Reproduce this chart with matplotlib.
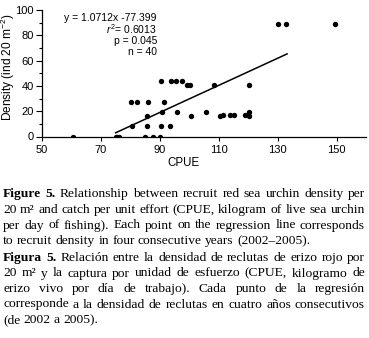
import matplotlib
matplotlib.use("Agg")
import matplotlib.pyplot as plt
from matplotlib.ticker import MultipleLocator

plt.rcParams['font.family'] = ['Liberation Sans', 'DejaVu Sans']
plt.rcParams['mathtext.fontset'] = 'custom'
plt.rcParams['mathtext.rm'] = 'Liberation Sans'
plt.rcParams['mathtext.it'] = 'Liberation Sans:italic'

# datos
cpue = [60.6, 75.0, 75.5, 76.2, 80.1, 82.1, 80.4, 86.0, 85.8, 85.5,
        85.1, 87.8, 90.0, 90.4, 90.6, 90.5, 91.4, 93.3, 93.8, 95.6,
        97.4, 95.7, 99.3, 100.2, 108.4, 120.2, 100.7, 105.6, 110.6, 111.3,
        113.7, 115.2, 119.0, 120.2, 120.2, 130.1, 132.9, 149.6]
densidad = [0, 0, 0, 0, 27, 27, 8, 27, 16, 8,
            0, 0, 0, 44, 19, 8, 27, 8, 44, 44,
            44, 19, 41, 41, 41, 41, 16, 19, 16, 17,
            17, 17, 17, 19, 16, 89, 89, 89]

pendiente = 1.0712
intercepto = -77.399
rango_ajuste = [75.0, 133.2]

xticks = [50, 70, 90, 110, 130, 150]
estadisticas = ["y = 1.0712x -77.399", "$\\mathit{r}^2$= 0.6013", "p = 0.045", "n = 40"]

leyenda = [
    ["Figure 5. Relationship between recruit red sea urchin density per",
     "20 m\u00b2 and catch per unit effort (CPUE, kilogram of live sea urchin",
     "per day of fishing). Each point on the regression line corresponds",
     "to recruit density in four consecutive years (2002\u20132005)."],
    ["Figura 5. Relaci\u00f3n entre la densidad de reclutas de erizo rojo por",
     "20 m\u00b2 y la captura por unidad de esfuerzo (CPUE, kilogramo de",
     "erizo vivo por d\u00eda de trabajo). Cada punto de la regresi\u00f3n",
     "corresponde a la densidad de reclutas en cuatro a\u00f1os consecutivos",
     "(de 2002 a 2005)."],
]

W, H = 369, 338
fig = plt.figure(figsize=(W / 100, H / 100), dpi=100)
ax = fig.add_axes([42 / W, 1 - 136.5 / H, 324 / W, 126.5 / H])

ax.scatter(cpue, densidad, s=15, color='black', zorder=3, linewidths=0)
xs = rango_ajuste
ys = [pendiente * v + intercepto for v in xs]
ax.plot(xs, ys, color='black', linewidth=1.1)

ax.set_xlim(50, 160)
ax.set_ylim(0, 100)
ax.set_xticks(xticks)
ax.yaxis.set_major_locator(MultipleLocator(20))
ax.yaxis.set_minor_locator(MultipleLocator(10))
ax.spines['top'].set_visible(False)
ax.spines['right'].set_visible(False)
for s in ['left', 'bottom']:
    ax.spines[s].set_linewidth(0.9)
ax.tick_params(axis='y', which='major', length=4, width=0.8, pad=2, labelsize=8)
ax.tick_params(axis='y', which='minor', length=2, width=0.8)
ax.tick_params(axis='x', which='major', length=3, width=0.8, pad=3, labelsize=8)

fig.text(8 / W, 1 - 67 / H, "Density (ind 20 m$^{-2}$)", rotation=90,
         ha='center', va='center', fontsize=8.6)
fig.text(183 / W, 1 - 163 / H, "CPUE", ha='center', va='center', fontsize=8.3)

for txt, yc in zip(estadisticas, [18, 29, 41, 52]):
    ax.text((157 - 42) / 324, (136.5 - yc) / 126.5, txt, transform=ax.transAxes,
            ha='right', va='center', fontsize=7.5)

# leyenda justificada
fig.canvas.draw()
ren = fig.canvas.get_renderer()
izq, der = 3, 365
fs = 9.7
esp = 0.25 * fs * 100 / 72
bases = [[197.3, 213, 228.5, 244], [261, 276.5, 292, 307.5, 323]]
for parr, ylist in zip(leyenda, bases):
    for i, (linea, yb) in enumerate(zip(parr, ylist)):
        palabras = linea.split(" ")
        objs = []
        for j, p in enumerate(palabras):
            peso = 'bold' if (i == 0 and j < 2) else 'normal'
            t = fig.text(0, 1 - yb / H, p, family='Liberation Serif', fontsize=fs,
                         fontweight=peso, va='baseline', ha='left')
            objs.append(t)
        anchos = [t.get_window_extent(ren).width for t in objs]
        ultima = (i == len(parr) - 1)
        if ultima:
            hueco = esp
        else:
            hueco = max((der - izq - sum(anchos)) / (len(objs) - 1), 2.2)
        x = izq
        for t, w in zip(objs, anchos):
            t.set_x(x / W)
            x += w + hueco

fig.savefig("out.png", dpi=100)
